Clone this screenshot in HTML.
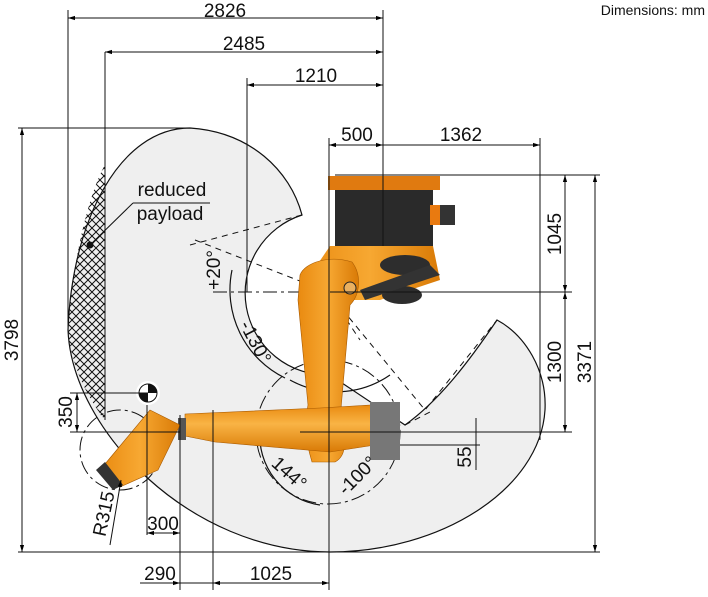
<!DOCTYPE html>
<html><head><meta charset="utf-8"><style>
html,body{margin:0;padding:0;background:#fff;}
svg{display:block;font-family:"Liberation Sans",Arial,sans-serif;}
</style></head><body>
<svg width="708" height="597" viewBox="0 0 708 597" xmlns="http://www.w3.org/2000/svg">
<defs>
<pattern id="hatch" width="8" height="8" patternUnits="userSpaceOnUse">
<path d="M0,0 L8,8 M8,0 L0,8" stroke="#111" stroke-width="1"/>
</pattern>
<marker id="ar" viewBox="0 0 10 10" refX="10" refY="5" markerWidth="7" markerHeight="7" orient="auto-start-reverse"><path d="M0,2 L10,5 L0,8z" fill="#000"/></marker>
<linearGradient id="org" x1="0" x2="1"><stop offset="0" stop-color="#e98a10"/><stop offset="0.5" stop-color="#f7a832"/><stop offset="1" stop-color="#d97a06"/></linearGradient>
<linearGradient id="orgv" x1="0" y1="0" x2="0" y2="1"><stop offset="0" stop-color="#e98a10"/><stop offset="0.4" stop-color="#f9b445"/><stop offset="1" stop-color="#d97a06"/></linearGradient>
</defs>

<!-- workspace -->
<path d="M302,215 C290,170 250,132 190,128 C120,128 72,220 68,330 C72,430 190,552 330,552 C440,552 540,490 545,410 C547,370 525,335 497,320 C470,360 440,400 405,425 L330,375 A82 82 0 0 1 302,215 Z" fill="#efefef" stroke="#111" stroke-width="1.2"/>
<path d="M105,165 C90,190 72,260 68,330 C70,360 85,395 105,420 Z" fill="url(#hatch)" stroke="none"/>
<line x1="105" y1="52" x2="105" y2="420" stroke="#111" stroke-width="1"/>

<g stroke="#111" stroke-width="1" fill="none" stroke-dasharray="6,5">
<path d="M190,245 L302,215"/><path d="M195,240 L328,292"/>
<path d="M328,292 L425,410 L497,320"/>
<path d="M405,425 L430,412"/>
<path d="M328,292 L360,340"/>
</g>
<g stroke="#111" stroke-width="1" fill="none" stroke-dasharray="14,4,3,4">
<line x1="213" y1="292" x2="330" y2="292"/>
<circle cx="328" cy="432" r="72"/>
<circle cx="120" cy="450" r="40"/>
</g>
<path d="M232,270 A98 98 0 0 0 285,378" stroke="#111" fill="none" stroke-width="1.2"/>
<path d="M290,380 A95 95 0 0 0 390,375" stroke="#111" fill="none" stroke-width="1.2"/>
<path d="M260,430 A70 70 0 0 0 320,505" stroke="#111" fill="none" stroke-width="1.2"/>

<!-- robot -->
<g>
<rect x="328" y="176" width="112" height="14" fill="#e07a10"/>
<rect x="335" y="190" width="98" height="56" fill="#2a2a2a"/>
<rect x="430" y="205" width="25" height="20" fill="#333"/>
<rect x="430" y="205" width="10" height="20" fill="#e97a10"/>
<path d="M330,246 L433,246 L440,280 L380,300 L330,300 L300,290 Z" fill="url(#org)"/>
<path d="M300,275 C305,262 330,255 352,262 C362,275 360,295 350,305 L340,420 C345,440 348,455 335,462 L312,462 C305,440 305,420 308,405 L298,300 Z" fill="url(#org)" stroke="#a85a00" stroke-width="0.6"/>
<ellipse cx="405" cy="265" rx="25" ry="10" fill="#2d2d2d"/>
<ellipse cx="402" cy="295" rx="20" ry="9" fill="#2d2d2d"/>
<path d="M360,290 L430,265 L440,275 L365,300 Z" fill="#333"/>
<circle cx="350" cy="288" r="6" fill="#e9b060" stroke="#222"/>
<path d="M185,414 L320,408 L372,405 L375,445 L330,452 L215,442 L185,436 Z" fill="url(#orgv)" stroke="#a85a00" stroke-width="0.6"/>
<rect x="370" y="402" width="30" height="58" fill="#777"/>
<rect x="178" y="418" width="8" height="22" fill="#555"/>
<path d="M150,410 L180,425 L158,470 L120,487 L100,470 L125,440 Z" fill="url(#org)" stroke="#a85a00" stroke-width="0.6"/>
<path d="M96,470 L105,462 L123,485 L113,490 Z" fill="#333"/>
</g>

<circle cx="148" cy="393" r="12" fill="#fff"/>
<circle cx="148" cy="393" r="9" fill="#fff" stroke="#111"/>
<path d="M148,384 A9 9 0 0 1 157,393 L148,393Z M148,402 A9 9 0 0 1 139,393 L148,393Z" fill="#111"/>

<g stroke="#111" stroke-width="1" fill="none">
<line x1="68" y1="10" x2="68" y2="330"/>
<line x1="383" y1="10" x2="383" y2="246"/>
<line x1="247" y1="78" x2="247" y2="292"/>
<line x1="329" y1="138" x2="329" y2="590"/>
<line x1="540" y1="138" x2="540" y2="440"/>
<line x1="68" y1="18" x2="383" y2="18" marker-start="url(#ar)" marker-end="url(#ar)"/>
<line x1="105" y1="52" x2="383" y2="52" marker-start="url(#ar)" marker-end="url(#ar)"/>
<line x1="247" y1="85" x2="383" y2="85" marker-start="url(#ar)" marker-end="url(#ar)"/>
<line x1="329" y1="145" x2="383" y2="145" marker-start="url(#ar)" marker-end="url(#ar)"/>
<line x1="383" y1="145" x2="540" y2="145" marker-end="url(#ar)"/>
<line x1="335" y1="175" x2="600" y2="175"/>
<line x1="330" y1="292" x2="572" y2="292"/>
<line x1="300" y1="432" x2="572" y2="432"/>
<line x1="18" y1="552" x2="600" y2="552"/>
<line x1="18" y1="128" x2="190" y2="128"/>
<line x1="565" y1="175" x2="565" y2="292" marker-start="url(#ar)" marker-end="url(#ar)"/>
<line x1="565" y1="292" x2="565" y2="432" marker-start="url(#ar)" marker-end="url(#ar)"/>
<line x1="595" y1="175" x2="595" y2="552" marker-start="url(#ar)" marker-end="url(#ar)"/>
<line x1="22" y1="128" x2="22" y2="552" marker-start="url(#ar)" marker-end="url(#ar)"/>
<line x1="70" y1="393" x2="148" y2="393"/>
<line x1="70" y1="432" x2="180" y2="432"/>
<line x1="77" y1="393" x2="77" y2="432" marker-start="url(#ar)" marker-end="url(#ar)"/>
<line x1="476" y1="418" x2="476" y2="470"/>
<line x1="400" y1="445" x2="480" y2="445"/>
<line x1="180" y1="415" x2="180" y2="590"/>
<line x1="213" y1="410" x2="213" y2="590"/>
<line x1="147" y1="405" x2="147" y2="535"/>
<line x1="147" y1="533" x2="180" y2="533" marker-start="url(#ar)" marker-end="url(#ar)"/>
<line x1="140" y1="583" x2="180" y2="583" marker-end="url(#ar)"/>
<line x1="180" y1="583" x2="213" y2="583"/>
<line x1="213" y1="583" x2="329" y2="583" marker-start="url(#ar)" marker-end="url(#ar)"/>
<line x1="110" y1="545" x2="121" y2="480" marker-end="url(#ar)"/>
<line x1="133" y1="203" x2="210" y2="203"/>
<line x1="133" y1="203" x2="90" y2="245"/>
</g>
<circle cx="90" cy="245" r="3.5" fill="#111"/>

<g font-size="19" fill="#111" text-anchor="middle">
<text x="225" y="17">2826</text>
<text x="244" y="50">2485</text>
<text x="316" y="82">1210</text>
<text x="357" y="141">500</text>
<text x="461" y="141">1362</text>
<text x="163" y="530">300</text>
<text x="160" y="580">290</text>
<text x="271" y="580">1025</text>
<text transform="translate(561,234) rotate(-90)">1045</text>
<text transform="translate(561,362) rotate(-90)">1300</text>
<text transform="translate(591,362) rotate(-90)">3371</text>
<text transform="translate(18,340) rotate(-90)">3798</text>
<text transform="translate(72,412) rotate(-90)">350</text>
<text transform="translate(471,457) rotate(-90)">55</text>
<text transform="translate(220,270) rotate(-90)">+20°</text>
<text transform="translate(250,345) rotate(62)">-130°</text>
<text transform="translate(285,478) rotate(42)">144°</text>
<text transform="translate(362,480) rotate(-45)">-100°</text>
<text transform="translate(110,515) rotate(-78)">R315</text>
<text x="172" y="196">reduced</text>
<text x="170" y="220">payload</text>
</g>
<text x="705" y="15" font-size="14" text-anchor="end" fill="#111">Dimensions: mm</text>
</svg>
</body></html>
